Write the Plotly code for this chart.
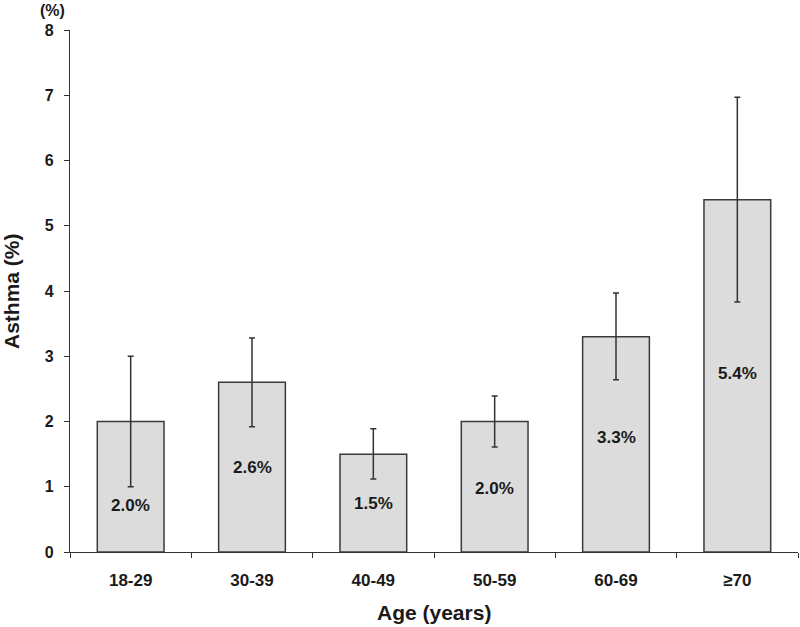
import plotly.graph_objects as go

categories = ["18-29", "30-39", "40-49", "50-59", "60-69", "≥70"]
values = [2.0, 2.6, 1.5, 2.0, 3.3, 5.4]
err_upper = [3.0, 3.28, 1.89, 2.39, 3.97, 6.97]
err_lower = [1.0, 1.92, 1.12, 1.61, 2.64, 3.83]
value_labels = ["2.0%", "2.6%", "1.5%", "2.0%", "3.3%", "5.4%"]
label_y = [0.72, 1.30, 0.75, 0.98, 1.76, 2.74]

plus = [u - v for u, v in zip(err_upper, values)]
minus = [v - l for v, l in zip(values, err_lower)]

font_family = "Liberation Sans, Arial, sans-serif"
ink = "#1a1a1a"

fig = go.Figure()
fig.add_trace(go.Bar(
    x=categories, y=values, width=0.55,
    marker=dict(color="#dcdcdc", line=dict(color="#3a3a3a", width=1.5)),
    error_y=dict(type="data", symmetric=False, array=plus, arrayminus=minus,
                 color="#333333", thickness=1.5, width=3),
    hoverinfo="skip",
))

for c, lab, ly in zip(categories, value_labels, label_y):
    fig.add_annotation(x=c, y=ly, text="<b>%s</b>" % lab, showarrow=False,
                       font=dict(family=font_family, size=17, color=ink))

# "(%)" unit above the y axis tick labels
fig.add_annotation(xref="paper", yref="paper", x=0, y=1.0, xshift=-18, yshift=20,
                   text="<b>(%)</b>", showarrow=False, xanchor="center", yanchor="middle",
                   font=dict(family=font_family, size=16, color=ink))
# axis titles
fig.add_annotation(xref="paper", yref="paper", x=0, y=0.5, xshift=-59,
                   text="<b>Asthma (%)</b>", textangle=-90, showarrow=False,
                   xanchor="center", yanchor="middle",
                   font=dict(family=font_family, size=21, color=ink))
fig.add_annotation(xref="paper", yref="paper", x=0.5, y=0, yshift=-60,
                   text="<b>Age (years)</b>", showarrow=False,
                   xanchor="center", yanchor="middle",
                   font=dict(family=font_family, size=21, color=ink))

fig.update_layout(
    width=800, height=627,
    margin=dict(l=70, r=2, t=30, b=75, autoexpand=False),
    plot_bgcolor="white", paper_bgcolor="white",
    showlegend=False,
    font=dict(family=font_family, color=ink),
)
fig.update_xaxes(
    type="category", range=[-0.5, 5.5], tickson="boundaries",
    ticks="outside", ticklen=5, tickcolor="#333333", tickwidth=1.2,
    showline=True, linecolor="#333333", linewidth=1.2,
    showgrid=False, zeroline=False, automargin=False,
    tickfont=dict(family=font_family, size=17, color=ink, weight="bold"),
    ticklabelstandoff=12,
)
fig.update_yaxes(
    range=[0, 8], dtick=1, tick0=0,
    ticks="outside", ticklen=5, tickcolor="#333333", tickwidth=1.2,
    showline=True, linecolor="#333333", linewidth=1.2,
    showgrid=False, zeroline=False, automargin=False,
    tickfont=dict(family=font_family, size=16, color=ink, weight="bold"),
    ticklabelstandoff=7,
)

fig.write_html("out.html", config={"displayModeBar": False},
               post_script="document.body.style.margin='0';")
